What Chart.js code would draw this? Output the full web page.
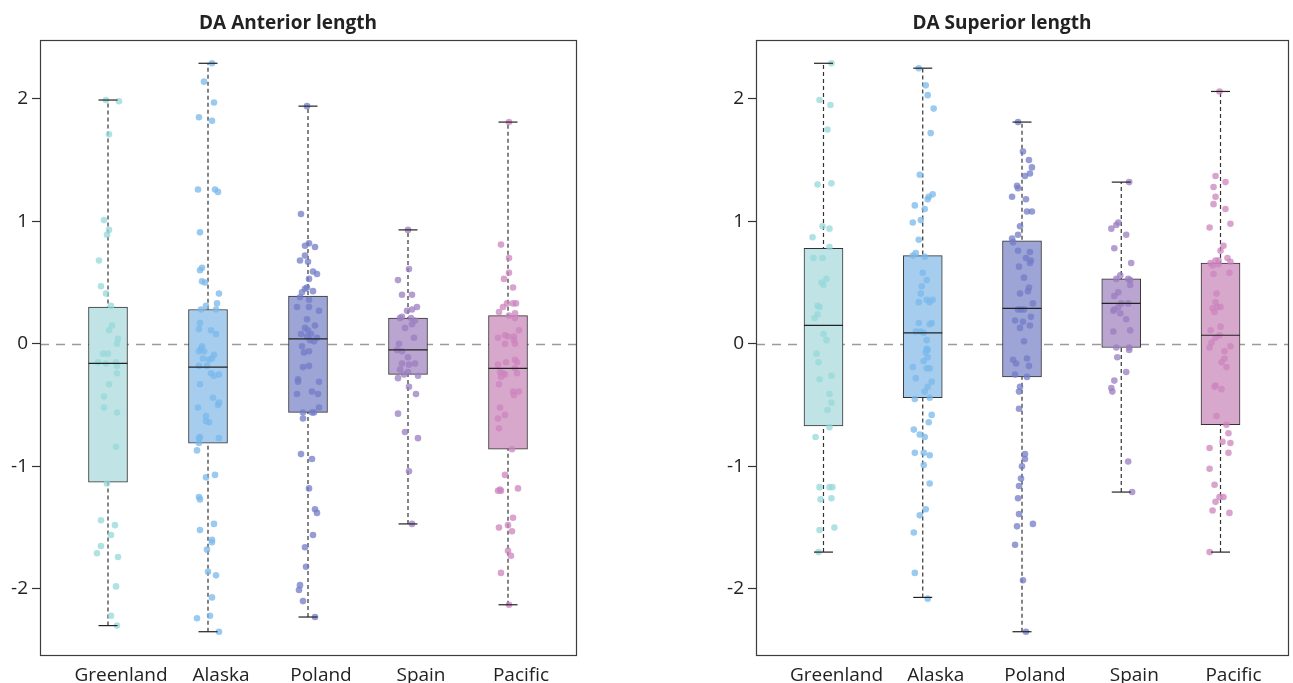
<!DOCTYPE html>
<html>
<head>
<meta charset="utf-8">
<script src="https://cdn.jsdelivr.net/npm/chart.js@4.4.0/dist/chart.umd.min.js"></script>
<style>
    body { margin: 0; background: #fff; width: 1293px; height: 683px; overflow: hidden; position: relative; }
    .panel { position: absolute; top: 0; height: 683px; }
</style>
</head>
<body>
<div class="panel" style="left:0;width:580px"><canvas id="anterior-chart"></canvas></div>
<div class="panel" style="left:716px;width:576px"><canvas id="superior-chart"></canvas></div>
<script>
const groups = ['Greenland', 'Alaska', 'Poland', 'Spain', 'Pacific'];
const yTicks = [-2, -1, 0, 1, 2];

// DA Anterior length - box stats
const antLow = [-2.30, -2.35, -2.23, -1.47, -2.13];
const antQ1 = [-1.13, -0.81, -0.56, -0.25, -0.86];
const antMedian = [-0.16, -0.19, 0.04, -0.05, -0.20];
const antQ3 = [0.30, 0.28, 0.39, 0.21, 0.23];
const antHigh = [1.99, 2.29, 1.94, 0.93, 1.81];

// DA Anterior length - individual points (value, horizontal jitter)
const antGreenland = [1.99, 1.98, 1.71, 1.01, 0.93, 0.89, 0.68, 0.47, 0.41, 0.31, 0.15, 0.11, 0.04, 0.0, -0.08, -0.08, -0.15, -0.16, -0.15, -0.18, -0.24, -0.33, -0.43, -0.52, -0.56, -0.84, -1.14, -1.44, -1.48, -1.56, -1.65, -1.71, -1.74, -1.98, -2.22, -2.30];
const antGreenlandJit = [-0.02, 0.11, 0.01, -0.04, 0.01, -0.01, -0.09, -0.07, -0.02, 0.03, 0.04, 0.01, 0.10, 0.09, -0.05, 0, -0.10, -0.02, 0.08, 0.09, 0.09, 0.01, -0.04, -0.04, 0.09, 0.08, -0.01, -0.07, 0.07, 0.03, -0.07, -0.11, 0.10, 0.08, 0.03, 0.09];
const antAlaska = [2.29, 2.14, 1.97, 1.85, 1.82, 1.26, 1.26, 1.24, 0.91, 0.62, 0.60, 0.51, 0.50, 0.41, 0.33, 0.31, 0.28, 0.28, 0.17, 0.12, 0.11, 0.08, -0.02, -0.04, -0.09, -0.06, -0.06, -0.12, -0.13, -0.12, -0.18, -0.18, -0.24, -0.26, -0.25, -0.33, -0.44, -0.48, -0.50, -0.52, -0.59, -0.63, -0.64, -0.76, -0.77, -0.77, -0.81, -0.87, -1.09, -1.07, -1.25, -1.27, -1.47, -1.52, -1.60, -1.62, -1.68, -1.86, -1.89, -2.07, -2.24, -2.22, -2.35];
const antAlaskaJit = [0.04, -0.04, 0.06, -0.09, 0.04, -0.10, 0.07, 0.10, -0.08, -0.06, -0.08, -0.06, -0.03, 0.11, 0.09, -0.02, -0.07, 0.08, -0.08, -0.09, 0.03, 0.08, -0.06, -0.07, 0.06, -0.09, -0.04, 0.04, 0.01, -0.05, -0.09, -0.01, 0.03, 0.06, 0.11, -0.08, 0.05, 0.11, 0.10, -0.10, -0.02, -0.02, 0.01, -0.08, -0.09, 0.11, -0.09, -0.11, -0.02, 0.07, -0.09, -0.08, 0.06, -0.08, 0.04, 0.04, -0.01, 0, 0.08, 0.04, -0.11, 0.02, 0.11];
const antPoland = [1.94, 1.06, 0.80, 0.82, 0.79, 0.72, 0.68, 0.67, 0.59, 0.57, 0.53, 0.46, 0.45, 0.42, 0.43, 0.38, 0.36, 0.30, 0.30, 0.27, 0.20, 0.15, 0.13, 0.11, 0.08, 0.08, 0.06, 0.05, 0.03, 0.02, -0.02, -0.06, -0.07, -0.19, -0.18, -0.29, -0.31, -0.31, -0.41, -0.39, -0.41, -0.52, -0.56, -0.56, -0.56, -0.61, -0.90, -0.94, -1.18, -1.35, -1.38, -1.56, -1.66, -1.82, -1.97, -2.01, -2.10, -2.23];
const antPolandJit = [-0.01, -0.07, -0.03, 0.01, 0.07, -0.03, -0.08, 0, 0.05, 0.09, 0.01, -0.01, -0.03, -0.06, 0.05, -0.08, 0.01, -0.11, 0.01, 0.11, -0.01, 0.07, -0.03, 0, 0.03, -0.07, -0.01, 0.09, 0.02, 0.06, -0.06, 0.01, -0.04, -0.05, 0.01, -0.10, -0.10, 0.11, -0.11, 0.04, 0.10, 0.11, 0.04, 0.06, -0.05, -0.05, -0.07, 0.04, 0.01, 0.07, 0.09, 0.05, -0.03, -0.02, -0.08, -0.09, -0.05, 0.07];
const antSpain = [0.93, 0.61, 0.52, 0.40, 0.40, 0.30, 0.27, 0.28, 0.21, 0.22, 0.21, 0.19, 0.13, 0.16, 0.05, 0.0, -0.05, -0.06, -0.11, -0.16, -0.17, -0.16, -0.21, -0.23, -0.25, -0.28, -0.26, -0.35, -0.41, -0.57, -0.72, -0.77, -1.04, -1.47];
const antSpainJit = [0, 0.01, -0.10, -0.06, 0.04, 0.09, -0.01, 0.04, -0.08, -0.06, 0.03, 0.07, -0.03, 0.04, 0.06, -0.09, -0.11, -0.06, 0, -0.06, 0.01, 0.07, -0.08, 0, -0.04, -0.10, 0.10, 0.01, 0.08, -0.10, -0.03, 0.10, 0.01, 0.04];
const antPacific = [1.81, 0.81, 0.70, 0.58, 0.53, 0.46, 0.33, 0.30, 0.26, 0.33, 0.33, 0.23, 0.25, 0.21, 0.11, 0.05, 0.07, 0.06, 0.06, 0.03, 0.0, 0.0, -0.15, -0.13, -0.15, -0.17, -0.20, -0.23, -0.24, -0.25, -0.27, -0.24, -0.33, -0.39, -0.39, -0.42, -0.52, -0.58, -0.61, -0.69, -0.86, -1.07, -1.19, -1.20, -1.20, -1.18, -1.42, -1.50, -1.48, -1.53, -1.69, -1.73, -1.87, -2.13];
const antPacificJit = [0.01, -0.07, 0.01, 0.01, -0.04, 0.05, -0.01, -0.05, -0.09, 0.05, 0.08, 0.01, 0.07, 0.07, 0.11, -0.10, -0.03, 0, 0.06, 0.06, -0.03, 0.07, -0.02, 0.07, 0.09, -0.10, 0.07, -0.08, -0.05, -0.03, -0.07, 0.09, -0.09, 0.05, 0.11, 0.06, -0.08, -0.03, -0.10, -0.09, 0.04, -0.03, -0.08, -0.10, -0.07, 0.10, 0.05, -0.09, 0, 0.04, 0, 0.03, -0.07, 0.01];

// DA Superior length - box stats
const supLow = [-1.70, -2.07, -2.35, -1.21, -1.70];
const supQ1 = [-0.67, -0.44, -0.27, -0.03, -0.66];
const supMedian = [0.15, 0.09, 0.29, 0.33, 0.07];
const supQ3 = [0.78, 0.72, 0.84, 0.53, 0.66];
const supHigh = [2.29, 2.25, 1.81, 1.32, 2.06];

// DA Superior length - individual points
const supGreenland = [2.29, 1.99, 1.95, 1.75, 1.30, 1.31, 0.96, 0.94, 0.87, 0.79, 0.70, 0.70, 0.53, 0.50, 0.48, 0.31, 0.30, 0.24, 0.21, 0.08, 0.03, -0.08, -0.15, -0.26, -0.29, -0.41, -0.48, -0.54, -0.68, -0.76, -1.17, -1.17, -1.17, -1.27, -1.26, -1.50, -1.52, -1.70];
const supGreenlandJit = [0.08, -0.04, 0.07, 0.04, -0.06, 0.08, -0.01, 0.06, -0.11, 0.06, -0.10, -0.01, 0.03, -0.02, 0, -0.06, -0.04, -0.06, -0.09, 0, 0.03, -0.07, -0.05, 0.08, -0.04, 0.06, 0.08, 0.04, 0.06, -0.08, -0.04, 0.06, 0.09, -0.03, 0.08, 0.11, -0.04, -0.05];
const supAlaska = [2.25, 2.11, 2.03, 1.92, 1.72, 1.38, 1.22, 1.20, 1.18, 1.13, 1.10, 1.01, 0.99, 0.85, 0.74, 0.72, 0.71, 0.58, 0.52, 0.47, 0.41, 0.34, 0.36, 0.34, 0.36, 0.17, 0.16, 0.17, 0.10, 0.10, 0.09, 0.03, -0.04, -0.05, -0.07, -0.11, -0.14, -0.19, -0.20, -0.20, -0.28, -0.31, -0.35, -0.39, -0.45, -0.44, -0.58, -0.64, -0.70, -0.74, -0.76, -0.89, -0.89, -0.91, -0.99, -1.14, -1.35, -1.40, -1.54, -1.87, -2.08];
const supAlaskaJit = [-0.04, 0.03, 0.05, 0.11, 0.08, -0.03, 0.10, 0.06, 0.05, -0.08, 0.02, -0.02, -0.10, -0.04, -0.07, -0.10, 0.02, 0, 0.04, -0.01, -0.02, -0.04, 0.04, 0.07, 0.10, -0.04, 0.07, 0.09, -0.07, -0.02, 0.01, 0.04, 0.04, 0.05, 0.03, 0.05, 0.01, -0.10, 0.04, 0.07, -0.07, 0.09, 0.05, 0.02, -0.08, 0.07, 0.09, 0.06, -0.09, -0.03, 0.02, -0.08, 0.01, 0.07, 0.01, 0.07, 0.03, -0.03, -0.09, -0.08, 0.05];
const supPoland = [1.81, 1.57, 1.50, 1.44, 1.39, 1.37, 1.29, 1.27, 1.20, 1.18, 1.08, 1.08, 0.96, 0.89, 0.86, 0.83, 0.76, 0.75, 0.70, 0.68, 0.66, 0.63, 0.54, 0.46, 0.43, 0.41, 0.33, 0.28, 0.28, 0.28, 0.19, 0.18, 0.22, 0.15, 0.13, 0.02, -0.13, -0.16, -0.12, -0.18, -0.25, -0.27, -0.35, -0.39, -0.53, -0.90, -0.94, -1.00, -1.10, -1.16, -1.26, -1.39, -1.49, -1.47, -1.64, -1.93, -2.35];
const supPolandJit = [-0.04, 0.01, 0.07, 0.10, 0.08, 0.03, -0.05, -0.04, -0.10, 0.04, 0.05, 0.10, -0.02, -0.04, -0.10, -0.09, -0.04, 0.08, 0.04, 0.09, 0.08, -0.03, 0.02, 0.07, 0.06, -0.02, 0.11, -0.04, -0.01, 0.02, -0.07, 0.01, 0.09, 0.08, -0.02, 0.02, -0.09, -0.06, 0.05, 0.07, -0.07, 0.05, -0.02, -0.03, -0.03, 0.03, 0.03, 0, -0.01, -0.03, -0.04, -0.03, -0.05, 0.11, -0.07, 0.01, 0.04];
const supSpain = [1.32, 0.99, 0.97, 0.94, 0.89, 0.78, 0.66, 0.56, 0.53, 0.53, 0.52, 0.48, 0.42, 0.39, 0.33, 0.33, 0.30, 0.28, 0.27, 0.25, 0.20, 0.10, 0.11, -0.03, -0.03, -0.05, -0.11, -0.23, -0.30, -0.36, -0.39, -0.96, -1.21];
const supSpainJit = [0.08, -0.03, -0.05, -0.10, 0.05, -0.07, 0.10, -0.01, -0.05, 0.07, 0.09, 0.09, -0.03, -0.07, 0, 0.07, -0.03, -0.07, -0.08, -0.01, 0.05, -0.08, 0.09, -0.05, 0.08, 0.08, -0.04, 0.05, -0.07, -0.10, -0.09, 0.07, 0.11];
const supPacific = [2.06, 1.37, 1.32, 1.28, 1.20, 1.14, 1.10, 0.98, 0.95, 0.80, 0.76, 0.70, 0.68, 0.68, 0.67, 0.66, 0.64, 0.65, 0.57, 0.58, 0.41, 0.34, 0.29, 0.30, 0.30, 0.26, 0.14, 0.11, 0.05, 0.07, 0.01, -0.03, -0.02, -0.06, -0.12, -0.15, -0.19, -0.34, -0.35, -0.37, -0.59, -0.66, -0.73, -0.80, -0.81, -0.85, -0.89, -1.02, -1.15, -1.25, -1.25, -1.29, -1.36, -1.38, -1.70];
const supPacificJit = [-0.01, -0.05, 0.05, -0.07, -0.05, -0.07, 0.05, 0.10, -0.11, 0.03, 0, 0.07, -0.05, -0.02, 0.10, -0.10, -0.08, -0.02, -0.07, 0.09, -0.04, -0.05, -0.08, -0.03, 0, -0.06, 0, -0.10, -0.05, -0.01, -0.09, -0.11, 0.10, 0.04, 0.04, 0.01, 0.06, -0.05, -0.06, 0.01, -0.04, 0.06, 0.08, 0.02, 0.10, -0.11, 0.08, -0.11, -0.06, -0.01, 0.03, -0.05, -0.08, 0.09, -0.11];

const boxColors = ['#c0e4e5', '#a7cdee', '#9da5d6', '#b9a5d0', '#d8a8cc'];
const pointColors = [
    'rgba(150, 216, 218, 0.75)',
    'rgba(122, 184, 235, 0.75)',
    'rgba(115, 124, 199, 0.75)',
    'rgba(155, 126, 192, 0.75)',
    'rgba(204, 132, 190, 0.75)'
];

const FONT = "'Open Sans', 'Noto Sans', sans-serif";

// zero reference line + plot frame
const framePlugin = {
    id: 'frame',
    beforeDatasetsDraw(chart) {
        const area = chart.chartArea;
        const y = Math.round(chart.scales.y.getPixelForValue(0)) + 0.5;
        const ctx = chart.ctx;
        ctx.save();
        ctx.strokeStyle = '#9a9a9a';
        ctx.lineWidth = 1.3;
        ctx.setLineDash([9, 7]);
        ctx.beginPath();
        ctx.moveTo(area.left, y);
        ctx.lineTo(area.right, y);
        ctx.stroke();
        ctx.restore();
    },
    afterDraw(chart) {
        const area = chart.chartArea;
        const ctx = chart.ctx;
        ctx.save();
        ctx.strokeStyle = '#3c3c3c';
        ctx.lineWidth = 1.2;
        ctx.strokeRect(Math.round(area.left) + 0.5, Math.round(area.top) + 0.5,
            Math.round(area.right - area.left), Math.round(area.bottom - area.top));
        ctx.restore();
    }
};

function buildDatasets(low, q1, median, q3, high, values, jitters) {
    const whiskers = [];
    const caps = [];
    groups.forEach((g, i) => {
        whiskers.push({ x: i, y: low[i] }, { x: i, y: high[i] }, { x: i, y: null });
        caps.push({ x: i, y: low[i] }, { x: i, y: high[i] });
    });
    const medians = groups.map((g, i) => ({ x: i, y: median[i] }));
    const boxes = groups.map((g, i) => ({ x: i, y: [q1[i], q3[i]] }));

    const pointSets = groups.map((g, i) => ({
        type: 'scatter',
        label: g,
        data: values[i].map((v, k) => ({ x: i + jitters[i][k], y: v })),
        backgroundColor: pointColors[i],
        borderWidth: 0,
        pointRadius: 3.3,
        order: 3
    }));

    return [
        {
            type: 'line',
            data: whiskers,
            borderColor: '#333',
            borderWidth: 1.2,
            borderDash: [4, 3],
            pointRadius: 0,
            spanGaps: false,
            order: 6
        },
        {
            type: 'bar',
            data: boxes,
            backgroundColor: boxColors,
            borderColor: '#333',
            borderWidth: 1,
            borderSkipped: false,
            barThickness: 39,
            order: 5
        },
        ...pointSets,
        {
            type: 'scatter',
            data: medians,
            pointStyle: 'line',
            pointRadius: 19.5,
            borderColor: '#222',
            borderWidth: 1.2,
            order: 2
        },
        {
            type: 'scatter',
            data: caps,
            pointStyle: 'line',
            pointRadius: 9.5,
            borderColor: '#222',
            borderWidth: 1.2,
            order: 2
        }
    ];
}

function makeChart(canvasId, title, datasets) {
    return new Chart(document.getElementById(canvasId), {
        type: 'bar',
        data: { datasets: datasets },
        options: {
            responsive: true,
            maintainAspectRatio: false,
            animation: false,
            events: [],
            layout: { autoPadding: false, padding: { top: 0, right: 4, bottom: 0, left: 0 } },
            plugins: {
                legend: { display: false },
                tooltip: { enabled: false },
                title: {
                    display: true,
                    text: title,
                    color: '#222',
                    font: { family: FONT, size: 19, weight: 'bold' },
                    padding: { top: 12, bottom: 5.2 }
                }
            },
            scales: {
                x: {
                    type: 'linear',
                    min: -0.68,
                    max: 4.68,
                    offset: false,
                    grid: { display: false, drawTicks: false },
                    border: { display: false },
                    afterBuildTicks: scale => {
                        scale.ticks = groups.map((g, i) => ({ value: i }));
                    },
                    afterFit: scale => {
                        scale.height = 28;
                        scale.paddingLeft = 0;
                        scale.paddingRight = 0;
                    },
                    ticks: {
                        color: '#222',
                        font: { family: FONT, size: 19 },
                        padding: 9,
                        labelOffset: 13,
                        maxRotation: 0,
                        autoSkip: false,
                        callback: value => groups[value]
                    }
                },
                y: {
                    min: -2.54,
                    max: 2.48,
                    grid: {
                        drawOnChartArea: false,
                        drawTicks: true,
                        tickLength: 8,
                        tickColor: '#333',
                        tickWidth: 1.2
                    },
                    border: { display: false },
                    afterBuildTicks: scale => {
                        scale.ticks = yTicks.map(v => ({ value: v }));
                    },
                    afterFit: scale => { scale.width = 40; },
                    ticks: {
                        color: '#222',
                        font: { family: FONT, size: 19 },
                        padding: 4,
                        callback: value => String(value)
                    }
                }
            }
        },
        plugins: [framePlugin]
    });
}

makeChart('anterior-chart', 'DA Anterior length', buildDatasets(
    antLow, antQ1, antMedian, antQ3, antHigh,
    [antGreenland, antAlaska, antPoland, antSpain, antPacific],
    [antGreenlandJit, antAlaskaJit, antPolandJit, antSpainJit, antPacificJit]
));

makeChart('superior-chart', 'DA Superior length', buildDatasets(
    supLow, supQ1, supMedian, supQ3, supHigh,
    [supGreenland, supAlaska, supPoland, supSpain, supPacific],
    [supGreenlandJit, supAlaskaJit, supPolandJit, supSpainJit, supPacificJit]
));
</script>
</body>
</html>
